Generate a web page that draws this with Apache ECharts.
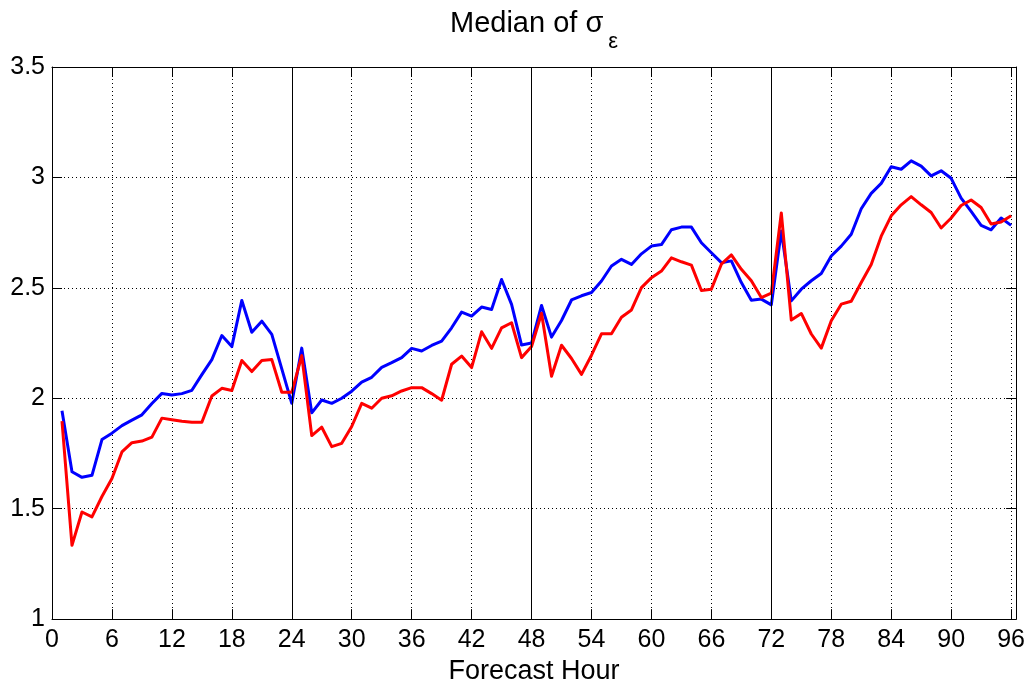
<!DOCTYPE html>
<html>
<head>
<meta charset="utf-8">
<script src="https://cdn.jsdelivr.net/npm/echarts@6/dist/echarts.min.js"></script>
<style>
html,body{margin:0;padding:0;background:#fff;}
#chart{width:1028px;height:690px;}
</style>
</head>
<body>
<div id="chart"></div>
<script>
// Forecast hours 1..96
const hours = [1,2,3,4,5,6,7,8,9,10,11,12,13,14,15,16,17,18,19,20,21,22,23,24,
  25,26,27,28,29,30,31,32,33,34,35,36,37,38,39,40,41,42,43,44,45,46,47,48,
  49,50,51,52,53,54,55,56,57,58,59,60,61,62,63,64,65,66,67,68,69,70,71,72,
  73,74,75,76,77,78,79,80,81,82,83,84,85,86,87,88,89,90,91,92,93,94,95,96];

const blueValues = [1.943,1.667,1.642,1.651,1.813,1.842,1.876,1.901,1.925,1.976,2.022,2.015,
  2.021,2.036,2.107,2.175,2.284,2.234,2.443,2.299,2.349,2.289,2.133,1.977,
  2.227,1.934,1.992,1.977,2.000,2.032,2.073,2.095,2.140,2.161,2.184,2.226,
  2.214,2.239,2.259,2.319,2.390,2.372,2.413,2.402,2.538,2.425,2.241,2.250,
  2.420,2.277,2.352,2.445,2.464,2.479,2.531,2.599,2.629,2.606,2.654,2.689,
  2.696,2.763,2.775,2.775,2.704,2.659,2.614,2.622,2.524,2.444,2.449,2.423,
  2.757,2.441,2.494,2.532,2.565,2.644,2.689,2.743,2.858,2.928,2.973,3.048,
  3.037,3.075,3.051,3.007,3.030,2.996,2.906,2.846,2.783,2.763,2.816,2.783];

const redValues = [1.896,1.334,1.485,1.463,1.555,1.637,1.757,1.799,1.806,1.824,1.910,1.903,
  1.896,1.891,1.891,2.010,2.045,2.035,2.171,2.121,2.171,2.175,2.027,2.027,
  2.193,1.831,1.869,1.781,1.796,1.872,1.977,1.955,2.000,2.011,2.033,2.048,
  2.048,2.021,1.991,2.154,2.191,2.139,2.301,2.226,2.319,2.342,2.184,2.234,
  2.385,2.100,2.240,2.180,2.108,2.195,2.292,2.292,2.367,2.400,2.501,2.546,
  2.576,2.636,2.618,2.603,2.488,2.494,2.607,2.649,2.584,2.532,2.456,2.476,
  2.839,2.354,2.384,2.291,2.227,2.351,2.426,2.439,2.524,2.606,2.734,2.826,
  2.876,2.913,2.876,2.841,2.771,2.816,2.873,2.898,2.864,2.789,2.798,2.826];

const dayBoundaries = [24, 48, 72];
const xTickStep = 6;
const yTicks = [1, 1.5, 2, 2.5, 3, 3.5];

const FONT = 'Liberation Sans';
const chart = echarts.init(document.getElementById('chart'), null, {renderer: 'canvas'});

const pairs = (vals) => hours.map((h, i) => [h, vals[i]]);
const dotted = {color: '#000', width: 1, type: [1, 3]};
const xMin = 0, xMax = 96.5;

const option = {
  animation: false,
  backgroundColor: '#fff',
  title: {
    text: '{m|Median of σ}{s|ε}',
    left: 450,
    top: 9,
    padding: 0,
    textStyle: {
      fontWeight: 'normal',
      rich: {
        m: {fontFamily: FONT, fontSize: 29, fontWeight: 'normal', color: '#000', lineHeight: 32, verticalAlign: 'top'},
        s: {fontFamily: FONT, fontSize: 22, fontWeight: 'normal', color: '#000', lineHeight: 22, padding: [22, 0, 0, 5], verticalAlign: 'top'}
      }
    }
  },
  grid: {left: 52, right: 10.5, top: 67, bottom: 66.5, containLabel: false},
  xAxis: [{
    type: 'value', min: xMin, max: xMax, interval: xTickStep,
    name: 'Forecast Hour', nameLocation: 'middle', nameGap: 37,
    nameTextStyle: {fontFamily: FONT, fontSize: 27, color: '#000'},
    axisLine: {show: true, onZero: false, lineStyle: {color: '#000', width: 1}},
    axisTick: {show: true, inside: true, length: 10, lineStyle: {color: '#000'}},
    axisLabel: {
      fontFamily: FONT, fontSize: 25, color: '#000', margin: 9,
      formatter: (v) => (Math.abs(v % xTickStep) < 1e-9 ? String(v) : '')
    },
    splitLine: {show: true, lineStyle: dotted}
  }, {
    type: 'value', min: xMin, max: xMax, interval: xTickStep, position: 'top',
    axisLine: {show: true, onZero: false, lineStyle: {color: '#000', width: 1}},
    axisTick: {show: true, inside: true, length: 10, lineStyle: {color: '#000'}},
    axisLabel: {show: false},
    splitLine: {show: false}
  }],
  yAxis: [{
    type: 'value', min: yTicks[0], max: yTicks[yTicks.length - 1], interval: 0.5,
    axisLine: {show: true, onZero: false, lineStyle: {color: '#000', width: 1}},
    axisTick: {show: true, inside: true, length: 10, lineStyle: {color: '#000'}},
    axisLabel: {fontFamily: FONT, fontSize: 25, color: '#000', margin: 7},
    splitLine: {show: true, lineStyle: dotted}
  }, {
    type: 'value', min: yTicks[0], max: yTicks[yTicks.length - 1], interval: 0.5, position: 'right',
    axisLine: {show: true, onZero: false, lineStyle: {color: '#000', width: 1}},
    axisTick: {show: true, inside: true, length: 10, lineStyle: {color: '#000'}},
    axisLabel: {show: false},
    splitLine: {show: false}
  }],
  series: [{
    type: 'line', data: [], z: 1, silent: true,
    markLine: {
      silent: true, symbol: ['none', 'none'], label: {show: false},
      lineStyle: {color: '#000', width: 1, type: 'solid'},
      emphasis: {disabled: true},
      data: dayBoundaries.map(h => ({xAxis: h}))
    }
  }, {
    type: 'line', data: pairs(blueValues), z: 3, symbol: 'none', silent: true,
    lineStyle: {color: '#0000ff', width: 3, join: 'round'}
  }, {
    type: 'line', data: pairs(redValues), z: 4, symbol: 'none', silent: true,
    lineStyle: {color: '#ff0000', width: 3, join: 'round'}
  }]
};
chart.setOption(option);
</script>
</body>
</html>
